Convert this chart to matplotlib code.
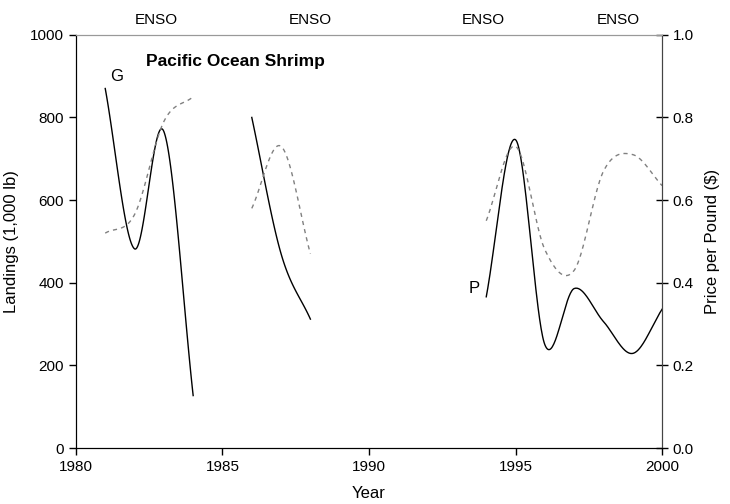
import numpy as np
import matplotlib
matplotlib.use("Agg")
import matplotlib.pyplot as plt

plt.rcParams['font.family'] = ['Liberation Sans', 'DejaVu Sans']

# Landings (1,000 lb), three separate stretches of years
land_years = [[1981, 1982, 1983, 1984], [1986, 1987, 1988],
              [1994, 1995, 1996, 1997, 1998, 1999, 2000]]
land_vals = [[870, 482, 766, 127], [800, 470, 312],
             [366, 746, 250, 386, 306, 229, 336]]

# Price per pound ($)
price_years = [[1981, 1982, 1983, 1984], [1986, 1987, 1988],
               [1994, 1995, 1996, 1997, 1998, 1999, 2000]]
price_vals = [[0.52, 0.565, 0.79, 0.85], [0.58, 0.73, 0.47],
              [0.55, 0.73, 0.48, 0.43, 0.67, 0.71, 0.635]]

enso_years = [1982.75, 1988.0, 1993.9, 1998.5]


def smooth(x, y, n=40):
    # Catmull-Rom style cubic through the points, for drawing only
    x = np.asarray(x, float)
    y = np.asarray(y, float)
    m = len(x)
    t = np.zeros(m)
    t[0] = (y[1] - y[0]) / (x[1] - x[0])
    t[-1] = (y[-1] - y[-2]) / (x[-1] - x[-2])
    for i in range(1, m - 1):
        t[i] = (y[i + 1] - y[i - 1]) / (x[i + 1] - x[i - 1])
    xs_all, ys_all = [], []
    for i in range(m - 1):
        h = x[i + 1] - x[i]
        s = np.linspace(0, 1, n)
        h00 = 2 * s**3 - 3 * s**2 + 1
        h10 = s**3 - 2 * s**2 + s
        h01 = -2 * s**3 + 3 * s**2
        h11 = s**3 - s**2
        xs_all.append(x[i] + s * h)
        ys_all.append(h00 * y[i] + h10 * h * t[i] + h01 * y[i + 1] + h11 * h * t[i + 1])
    return np.concatenate(xs_all), np.concatenate(ys_all)


fig = plt.figure(figsize=(7.3, 5.04), dpi=100)
ax = fig.add_axes([0.104, 0.111, 0.803, 0.820])
ax2 = ax.twinx()

for xs, ys in zip(land_years, land_vals):
    sx, sy = smooth(xs, ys)
    ax.plot(sx, sy, color='black', lw=1.0)

for xs, ys in zip(price_years, price_vals):
    sx, sy = smooth(xs, ys)
    ax2.plot(sx, sy, color='#808080', lw=1.0, ls=(0, (3, 3)))

ax.set_xlim(1980, 2000)
ax.set_ylim(0, 1000)
ax2.set_ylim(0, 1.0)
ax.set_xticks([1980, 1985, 1990, 1995, 2000])
ax.set_yticks([0, 200, 400, 600, 800, 1000])
ax2.set_yticks([0.0, 0.2, 0.4, 0.6, 0.8, 1.0])
ax2.set_yticklabels(['0.0', '0.2', '0.4', '0.6', '0.8', '1.0'])

ax.set_xlabel('Year', fontsize=12, labelpad=9)
ax.set_ylabel('Landings (1,000 lb)', fontsize=12, labelpad=8)
ax2.set_ylabel('Price per Pound ($)', fontsize=12, labelpad=8)

ax.tick_params(axis='both', labelsize=11, direction='out', length=5, width=1)
ax2.tick_params(axis='y', labelsize=11, direction='inout', length=8, width=1)

for a in (ax, ax2):
    a.spines['top'].set_color('#999999')
    a.spines['left'].set_color('black')
    a.spines['bottom'].set_color('black')
    a.spines['right'].set_color('#444444')

ax.text(1982.4, 935, 'Pacific Ocean Shrimp', fontsize=12.5, fontweight='bold',
        va='center', ha='left')
ax.text(1981.4, 898, 'G', fontsize=12, va='center', ha='center')
ax.text(1993.6, 385, 'P', fontsize=12, va='center', ha='center')

for yr in enso_years:
    ax.text(yr, 1035, 'ENSO', fontsize=11, va='center', ha='center')

fig.savefig('out.png', dpi=100)
